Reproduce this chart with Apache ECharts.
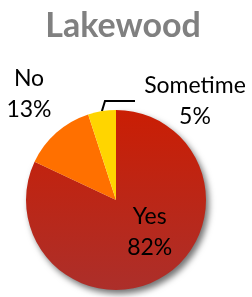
<!DOCTYPE html>
<html>
<head>
<meta charset="utf-8">
<script src="https://cdn.jsdelivr.net/npm/echarts@6/dist/echarts.min.js"></script>
<style>
  html, body { margin: 0; padding: 0; background: #fff; }
  #chart { width: 252px; height: 297px; }
</style>
</head>
<body>
<div id="chart"></div>
<script>
// 数据
const categories = ['Yes', 'No', 'Sometime'];
const values = [82, 13, 5];
const colors = [
  {type: 'linear', x: 0, y: 0, x2: 0, y2: 1,
   colorStops: [{offset: 0, color: '#CA1E04'}, {offset: 1, color: '#AC2F2A'}]},
  '#FF7000',
  '#FFD500'
];

const chart = echarts.init(document.getElementById('chart'));

const labelFont = {color: '#000', fontFamily: 'Lato', fontSize: 23, lineHeight: 31};

const seriesData = categories.map((name, i) => {
  const item = {name, value: values[i], itemStyle: {color: colors[i]}};
  if (i === 0) {
    item.itemStyle.shadowBlur = 6;
    item.itemStyle.shadowOffsetX = 3;
    item.itemStyle.shadowOffsetY = 4;
    item.itemStyle.shadowColor = 'rgba(0,0,0,0.55)';
    item.label = {position: 'inside', offset: [8, -8]};
    item.labelLine = {show: false};
  } else if (i === 1) {
    item.label = {position: 'outside'};
    item.labelLine = {show: false};
  } else {
    item.label = {position: 'outside'};
    item.labelLine = {show: true, lineStyle: {color: '#000', width: 2}};
  }
  return item;
});

chart.setOption({
  animation: false,
  title: {
    text: 'Lakewood',
    left: 118,
    textAlign: 'center',
    top: 4,
    textStyle: {color: '#808080', fontFamily: 'Lato', fontWeight: 'bold', fontSize: 34}
  },
  series: [{
    type: 'pie',
    center: [116, 200],
    radius: 90,
    startAngle: 90,
    clockwise: true,
    avoidLabelOverlap: false,
    data: seriesData,
    label: Object.assign({formatter: '{b}\n{d}%', align: 'center', overflow: 'none', width: 120}, labelFont),
    labelLayout: params => {
      if (params.dataIndex === 1) {
        return {x: 29, y: 94, align: 'center', verticalAlign: 'middle'};
      }
      if (params.dataIndex === 2) {
        return {x: 195, y: 101, align: 'center', verticalAlign: 'middle'};
      }
      return {};
    }
  }]
});
</script>
</body>
</html>
